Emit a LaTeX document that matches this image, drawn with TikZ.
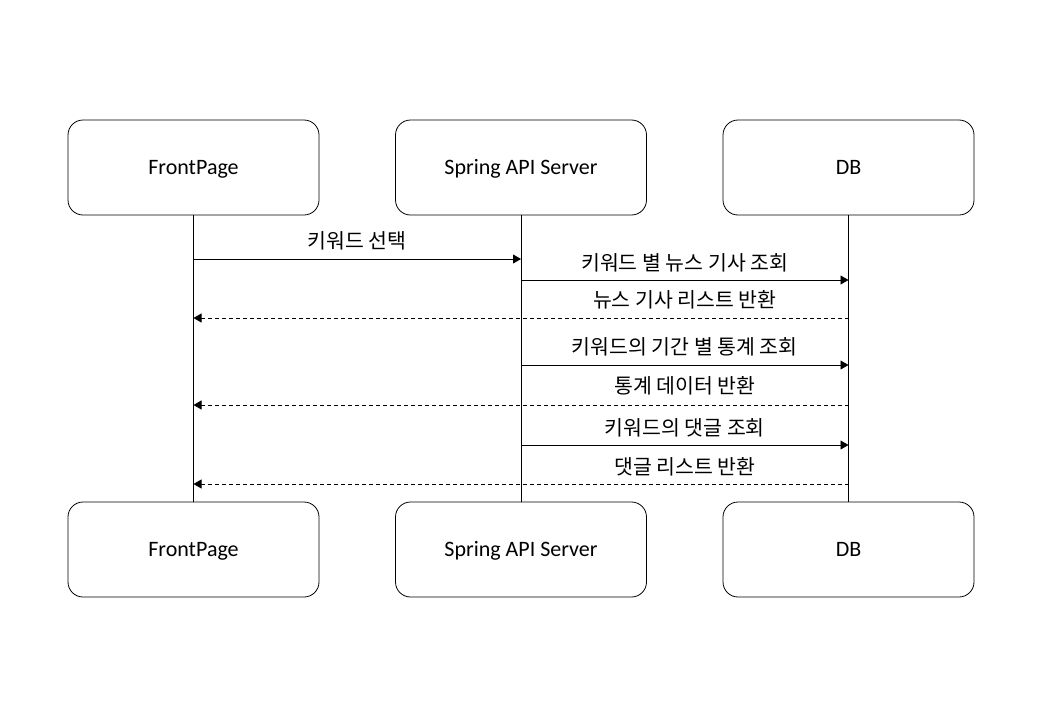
\documentclass[tikz,border=0pt]{standalone}
\usepackage{fontspec}
\setmainfont{Carlito}
\newfontfamily\kr{Noto Sans CJK KR}
\usetikzlibrary{arrows.meta}
\begin{document}
\begin{tikzpicture}[x=1pt,y=-1pt,
  actor/.style={draw, rounded corners=15pt, minimum width=251pt, minimum height=95pt, font=\fontsize{22}{26}\selectfont, text height=14pt, text depth=0pt, line width=0.8pt},
  life/.style={line width=0.8pt},
  msg/.style={line width=0.8pt, -{Triangle[length=8pt,width=9pt]}},
  ret/.style={msg, dash pattern=on 4pt off 3pt},
  lbl/.style={font=\kr\fontsize{20.5}{24}\selectfont, inner sep=0pt, anchor=center}]
\useasboundingbox (0,0) rectangle (1040,720);
\node[actor] (fp1) at (193.5,167.5) {FrontPage};
\node[actor] (sp1) at (521,167.5) {Spring API Server};
\node[actor] (db1) at (848.5,167.5) {DB};
\node[actor] (fp2) at (193.5,549.5) {FrontPage};
\node[actor] (sp2) at (521,549.5) {Spring API Server};
\node[actor] (db2) at (848.5,549.5) {DB};
\draw[life] (fp1) -- (fp2);
\draw[life] (sp1) -- (sp2);
\draw[life] (db1) -- (db2);
\foreach \n/\y in {1/259,2/280,3/318,4/365,5/405,6/445,7/484}{
  \coordinate (f\n) at (193.5,\y);
  \coordinate (s\n) at (521,\y);
  \coordinate (d\n) at (848.5,\y);
}
\draw[msg] (f1) -- node[lbl, yshift=18pt] {키워드 선택} (s1);
\draw[msg] (s2) -- node[lbl, yshift=17pt] {키워드 별 뉴스 기사 조회} (d2);
\draw[ret] (d3) -- node[lbl, yshift=18pt, pos=0.25] {뉴스 기사 리스트 반환} (f3);
\draw[msg] (s4) -- node[lbl, yshift=18pt] {키워드의 기간 별 통계 조회} (d4);
\draw[ret] (d5) -- node[lbl, yshift=19pt, pos=0.25] {통계 데이터 반환} (f5);
\draw[msg] (s6) -- node[lbl, yshift=17pt] {키워드의 댓글 조회} (d6);
\draw[ret] (d7) -- node[lbl, yshift=17pt, pos=0.25] {댓글 리스트 반환} (f7);
\end{tikzpicture}
\end{document}
